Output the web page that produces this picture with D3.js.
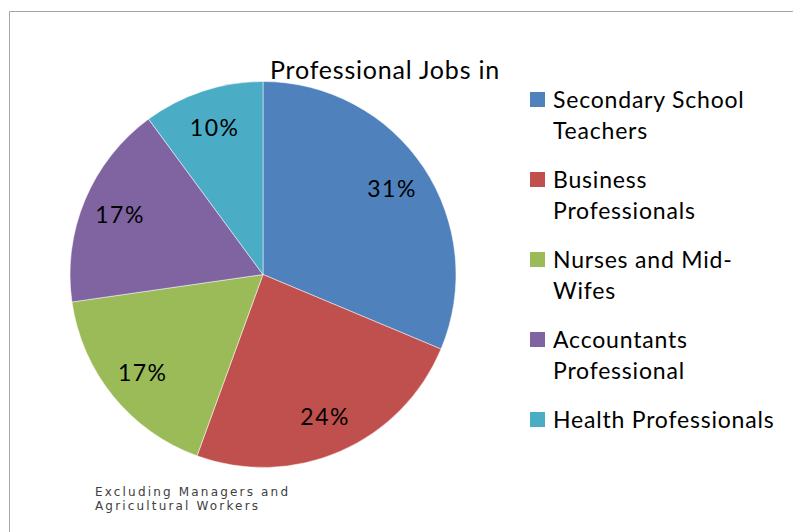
<!DOCTYPE html>
<html>
<head>
<meta charset="utf-8">
<script src="https://cdn.jsdelivr.net/npm/d3@7"></script>
<style>
  body { margin: 0; background: #fff; }
  text { font-family: Lato, "Open Sans", sans-serif; }
</style>
</head>
<body>
<div id="chart"></div>
<script>
// data
const categories = ["Secondary School Teachers", "Business Professionals", "Nurses and Mid-Wifes",
                    "Accountants Professional", "Health Professionals"];
const legendLines = [["Secondary School", "Teachers"], ["Business", "Professionals"],
                     ["Nurses and Mid-", "Wifes"], ["Accountants", "Professional"], ["Health Professionals"]];
const values = [31, 24, 17, 17, 10];
const colors = ["#4F81BD", "#C0504D", "#9BBB59", "#8064A2", "#4BACC6"];
const noteLines = ["Excluding Managers  and", "Agricultural Workers"];

function main() {
    const width = 793, height = 532;
    const radius = 193;

    const svg = d3.select("#chart")
        .append("svg")
        .attr("width", width)
        .attr("height", height);

    // frame lines (top and left)
    svg.append("line").attr("x1", 9.5).attr("x2", width).attr("y1", 11.5).attr("y2", 11.5)
        .attr("stroke", "#a6a6a6");
    svg.append("line").attr("x1", 9.5).attr("x2", 9.5).attr("y1", 11.5).attr("y2", height)
        .attr("stroke", "#a6a6a6");

    const data = categories.map((c, i) => ({ name: c, value: values[i] }));
    const pie = d3.pie().sort(null).value(d => d.value);
    const arc = d3.arc().innerRadius(0).outerRadius(radius);
    const labelArc = d3.arc().innerRadius(155).outerRadius(155);

    const g = svg.append("g").attr("transform", "translate(263, 274.5)");

    const arcs = pie(data);
    g.selectAll(".slice")
        .data(arcs)
        .enter()
        .append("path")
        .attr("class", "slice")
        .attr("d", arc)
        .attr("fill", (d, i) => colors[i])
        .attr("stroke", "#fff")
        .attr("stroke-width", 0.5);

    g.selectAll(".label")
        .data(arcs)
        .enter()
        .append("text")
        .attr("class", "label")
        .attr("transform", d => `translate(${labelArc.centroid(d)})`)
        .attr("text-anchor", "middle")
        .attr("dy", "0.36em")
        .attr("font-size", 23)
        .attr("letter-spacing", 1.5)
        .attr("fill", "#000")
        .text(d => d.data.value + "%");

    // title
    svg.append("text")
        .attr("x", 385)
        .attr("y", 79)
        .attr("text-anchor", "middle")
        .attr("font-size", 25)
        .attr("letter-spacing", 0.8)
        .attr("fill", "#000")
        .text("Professional Jobs in");

    // legend
    const legend = svg.selectAll(".legend")
        .data(legendLines)
        .enter()
        .append("g")
        .attr("class", "legend")
        .attr("transform", (d, i) => `translate(530, ${92 + i * 80})`);

    legend.append("rect")
        .attr("width", 15)
        .attr("height", 15)
        .attr("fill", (d, i) => colors[i]);

    legend.each(function(lines) {
        const t = d3.select(this).append("text")
            .attr("x", 23)
            .attr("y", 8)
            .attr("font-size", 23)
            .attr("letter-spacing", 0.8)
            .attr("fill", "#000");
        lines.forEach((line, j) => {
            t.append("tspan")
                .attr("x", 23)
                .attr("dy", j === 0 ? "0.36em" : 31)
                .text(line);
        });
    });

    // footnote, stretched to the width it has in the picture
    const noteWidths = [193, 163];
    svg.selectAll(".note")
        .data(noteLines)
        .enter()
        .append("text")
        .attr("class", "note")
        .attr("x", 95)
        .attr("y", (d, i) => 496 + i * 14)
        .style("font-family", "'DejaVu Sans', sans-serif")
        .attr("font-size", 12)
        .attr("textLength", (d, i) => noteWidths[i])
        .attr("lengthAdjust", "spacing")
        .attr("fill", "#404040")
        .text(d => d);
}

main();
</script>
</body>
</html>
